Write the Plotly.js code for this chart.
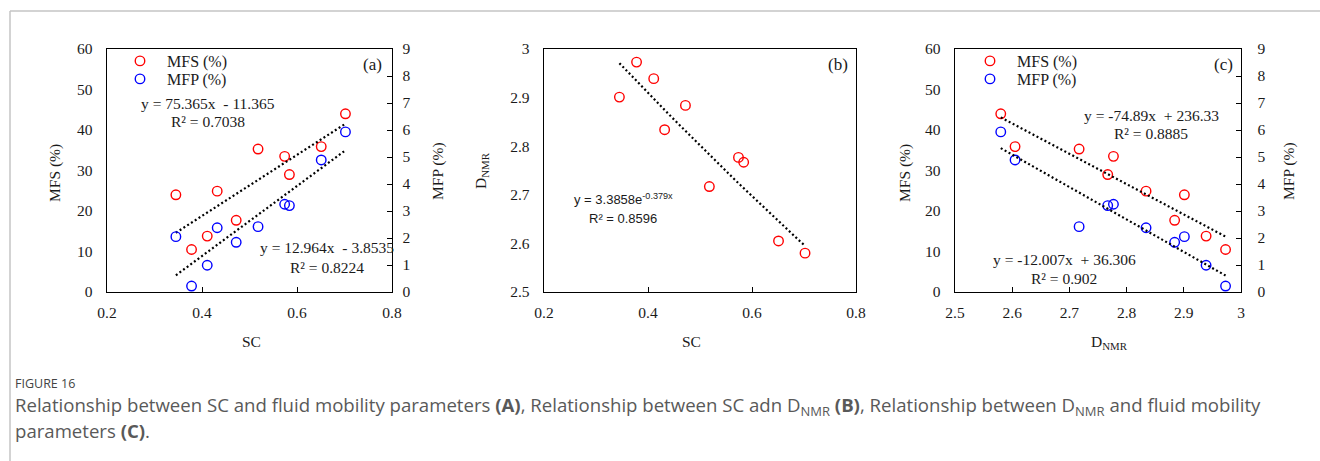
<!DOCTYPE html>
<html>
<head>
<meta charset="utf-8">
<script src="https://cdn.plot.ly/plotly-3.0.1.min.js"></script>
<style>
html,body{margin:0;padding:0;background:#fff;}
#chart{width:1320px;height:461px;}
</style>
</head>
<body>
<div id="chart"></div>
<script>
// ---------- data ----------
const SC    = [0.345, 0.378, 0.411, 0.432, 0.472, 0.518, 0.574, 0.584, 0.651, 0.702];
const DNMR  = [2.901, 2.973, 2.939, 2.834, 2.884, 2.717, 2.777, 2.767, 2.605, 2.580];
const MFS   = [24.0, 10.5, 13.8, 24.9, 17.7, 35.3, 33.5, 29.0, 35.9, 44.0];
const MFP   = [2.05, 0.22, 0.99, 2.38, 1.84, 2.42, 3.25, 3.20, 4.89, 5.93];
// trendline coefficients as printed on the chart
const fitA_MFS = [75.365, -11.365];
const fitA_MFP = [12.964, -3.8535];
const fitB_exp = [3.3858, -0.379];
const fitC_MFS = [-74.89, 236.33];
const fitC_MFP = [-12.007, 36.306];

// ---------- helpers ----------
const W = 1320, H = 461;
const px = v => v / W;
const py = v => 1 - v / H;
const lin = (c, xs) => xs.map(x => c[0] * x + c[1]);
const ext = a => [Math.min(...a), Math.max(...a)];
const sample = (lo, hi, n) => Array.from({length: n}, (_, i) => lo + (hi - lo) * i / (n - 1));

const RED = '#ff0000', BLUE = '#0000ff';
const serif = 'Liberation Serif, Times New Roman, serif';
const sans = 'Liberation Sans, Arial, sans-serif';

const mk = c => ({symbol: 'circle-open', size: 9.5, color: c, line: {width: 1.4, color: c}});
const dotLine = {color: '#000', width: 2.2, dash: '2px,2.5px'};

const scRange = ext(SC), dRange = ext(DNMR);
const bx = sample(scRange[0], scRange[1], 30);

const traces = [
  // panel a
  {x: SC, y: MFS, type: 'scatter', mode: 'markers', name: 'MFS (%)', marker: mk(RED), xaxis: 'x', yaxis: 'y', legend: 'legend'},
  {x: SC, y: MFP, type: 'scatter', mode: 'markers', name: 'MFP (%)', marker: mk(BLUE), xaxis: 'x', yaxis: 'y2', legend: 'legend2'},
  {x: scRange, y: lin(fitA_MFS, scRange), type: 'scatter', mode: 'lines', line: dotLine, showlegend: false, xaxis: 'x', yaxis: 'y', hoverinfo: 'skip'},
  {x: scRange, y: lin(fitA_MFP, scRange), type: 'scatter', mode: 'lines', line: dotLine, showlegend: false, xaxis: 'x', yaxis: 'y2', hoverinfo: 'skip'},
  // panel b
  {x: SC, y: DNMR, type: 'scatter', mode: 'markers', name: 'DNMR', marker: mk(RED), xaxis: 'x2', yaxis: 'y3', showlegend: false},
  {x: bx, y: bx.map(x => fitB_exp[0] * Math.exp(fitB_exp[1] * x)), type: 'scatter', mode: 'lines', line: dotLine, showlegend: false, xaxis: 'x2', yaxis: 'y3', hoverinfo: 'skip'},
  // panel c
  {x: DNMR, y: MFS, type: 'scatter', mode: 'markers', name: 'MFS (%)', marker: mk(RED), xaxis: 'x3', yaxis: 'y4', legend: 'legend3'},
  {x: DNMR, y: MFP, type: 'scatter', mode: 'markers', name: 'MFP (%)', marker: mk(BLUE), xaxis: 'x3', yaxis: 'y5', legend: 'legend4'},
  {x: dRange, y: lin(fitC_MFS, dRange), type: 'scatter', mode: 'lines', line: dotLine, showlegend: false, xaxis: 'x3', yaxis: 'y4', hoverinfo: 'skip'},
  {x: dRange, y: lin(fitC_MFP, dRange), type: 'scatter', mode: 'lines', line: dotLine, showlegend: false, xaxis: 'x3', yaxis: 'y5', hoverinfo: 'skip'}
];

const tickFont = {family: serif, size: 15.5, color: '#1a1a1a'};
const xAx = (dom, anchor, range, dtick) => ({
  domain: dom, anchor: anchor, range: range, dtick: dtick, tick0: range[0],
  showline: true, linecolor: '#000', linewidth: 1.4, mirror: true,
  ticks: 'inside', ticklen: 5, tickcolor: '#000', tickwidth: 1,
  showgrid: false, zeroline: false, tickfont: tickFont, ticklabelstandoff: 6,
  fixedrange: true
});
const yAx = (dom, anchor, range, dtick, extra) => Object.assign({
  domain: dom, anchor: anchor, range: range, dtick: dtick, tick0: range[0],
  showline: true, linecolor: '#000', linewidth: 1.4, mirror: true,
  ticks: '', showgrid: false, zeroline: false, tickfont: tickFont, ticklabelstandoff: 10,
  fixedrange: true
}, extra || {});

const yDom = [py(292), py(49)];
const domA = [px(107), px(392)], domB = [px(544), px(856)], domC = [px(955), px(1241)];

const txt = (size, fam) => ({family: fam || serif, size: size || 15.5, color: '#1a1a1a'});
const ann = (x, y, text, opts) => Object.assign({
  xref: 'paper', yref: 'paper', x: px(x), y: py(y), text: text, showarrow: false,
  xanchor: 'center', yanchor: 'middle', font: txt()
}, opts || {});
const nb = s => s.replace(/ /g, '\u00a0');
const capFont = {family: 'Open Sans, sans-serif', size: 18.6, color: '#595959'};

const annotations = [
  // panel a
  ann(55, 173, 'MFS (%)', {textangle: -90}),
  ann(251, 341, 'SC'),
  ann(438, 171, 'MFP (%)', {textangle: -90}),
  ann(372, 65, '(a)', {font: txt(17)}),
  ann(208, 103, nb('y = 75.365x  - 11.365')),
  ann(208, 122, 'R² = 0.7038'),
  ann(327, 247, nb('y = 12.964x  - 3.8535')),
  ann(327, 267, 'R² = 0.8224'),
  // panel b
  ann(481, 171, 'D<sub>NMR</sub>', {textangle: -90}),
  ann(691, 341, 'SC'),
  ann(838, 65, '(b)', {font: txt(17)}),
  ann(623, 199, 'y = 3.3858e<sup>-0.379x</sup>', {font: txt(13, sans)}),
  ann(623, 218, 'R² = 0.8596', {font: txt(13, sans)}),
  // panel c
  ann(905, 173, 'MFS (%)', {textangle: -90}),
  ann(1109, 342, 'D<sub>NMR</sub>'),
  ann(1289, 171, 'MFP (%)', {textangle: -90}),
  ann(1223, 65, '(c)', {font: txt(17)}),
  ann(1151, 115, nb('y = -74.89x  + 236.33')),
  ann(1151, 134, 'R² = 0.8885'),
  ann(1064, 259, nb('y = -12.007x  + 36.306')),
  ann(1064, 278, 'R² = 0.902'),
  // caption
  ann(13, 383, 'FIGURE 16', {xanchor: 'left', font: {family: 'Open Sans, sans-serif', size: 12.5, color: '#444'}}),
  ann(13, 406, 'Relationship between SC and fluid mobility parameters <b>(A)</b>, Relationship between SC adn D<sub>NMR</sub> <b>(B)</b>, Relationship between D<sub>NMR</sub> and fluid mobility',
      {xanchor: 'left', align: 'left', font: capFont}),
  ann(13, 430, 'parameters <b>(C)</b>.', {xanchor: 'left', align: 'left', font: capFont})
];

const legendFont = {family: serif, size: 16, color: '#1a1a1a'};
const leg = (x, ytop) => ({x: px(x), y: py(ytop), xanchor: 'left', yanchor: 'top', font: legendFont,
  bgcolor: 'rgba(0,0,0,0)', itemwidth: 44, tracegroupgap: 0});
const layout = {
  width: W, height: H, margin: {l: 0, r: 0, t: 0, b: 0},
  paper_bgcolor: '#fff', plot_bgcolor: 'rgba(0,0,0,0)',
  showlegend: true,
  xaxis:  xAx(domA, 'y', [0.2, 0.8], 0.2),
  yaxis:  yAx(yDom, 'x', [0, 60], 10),
  yaxis2: yAx(yDom, 'x', [0, 9], 1, {overlaying: 'y', side: 'right', mirror: false, ticks: 'inside', ticklen: 5, tickcolor: '#000', ticklabelstandoff: 6}),
  xaxis2: xAx(domB, 'y3', [0.2, 0.8], 0.2),
  yaxis3: yAx(yDom, 'x2', [2.5, 3], 0.1),
  xaxis3: xAx(domC, 'y4', [2.5, 3], 0.1),
  yaxis4: yAx(yDom, 'x3', [0, 60], 10),
  yaxis5: yAx(yDom, 'x3', [0, 9], 1, {overlaying: 'y4', side: 'right', mirror: false, ticks: 'inside', ticklen: 5, tickcolor: '#000', ticklabelstandoff: 12}),
  legend:  leg(113, 44),
  legend2: leg(113, 62),
  legend3: leg(963, 44),
  legend4: leg(963, 62),
  annotations: annotations,
  shapes: [
    {type: 'line', xref: 'paper', yref: 'paper', x0: px(10), x1: 1, y0: py(11), y1: py(11), line: {color: '#c4c4c4', width: 1.5}},
    {type: 'line', xref: 'paper', yref: 'paper', x0: px(10), x1: px(10), y0: py(11), y1: 0, line: {color: '#c4c4c4', width: 1.5}}
  ]
};

Plotly.newPlot('chart', traces, layout, {displayModeBar: false, staticPlot: true});
</script>
</body>
</html>
